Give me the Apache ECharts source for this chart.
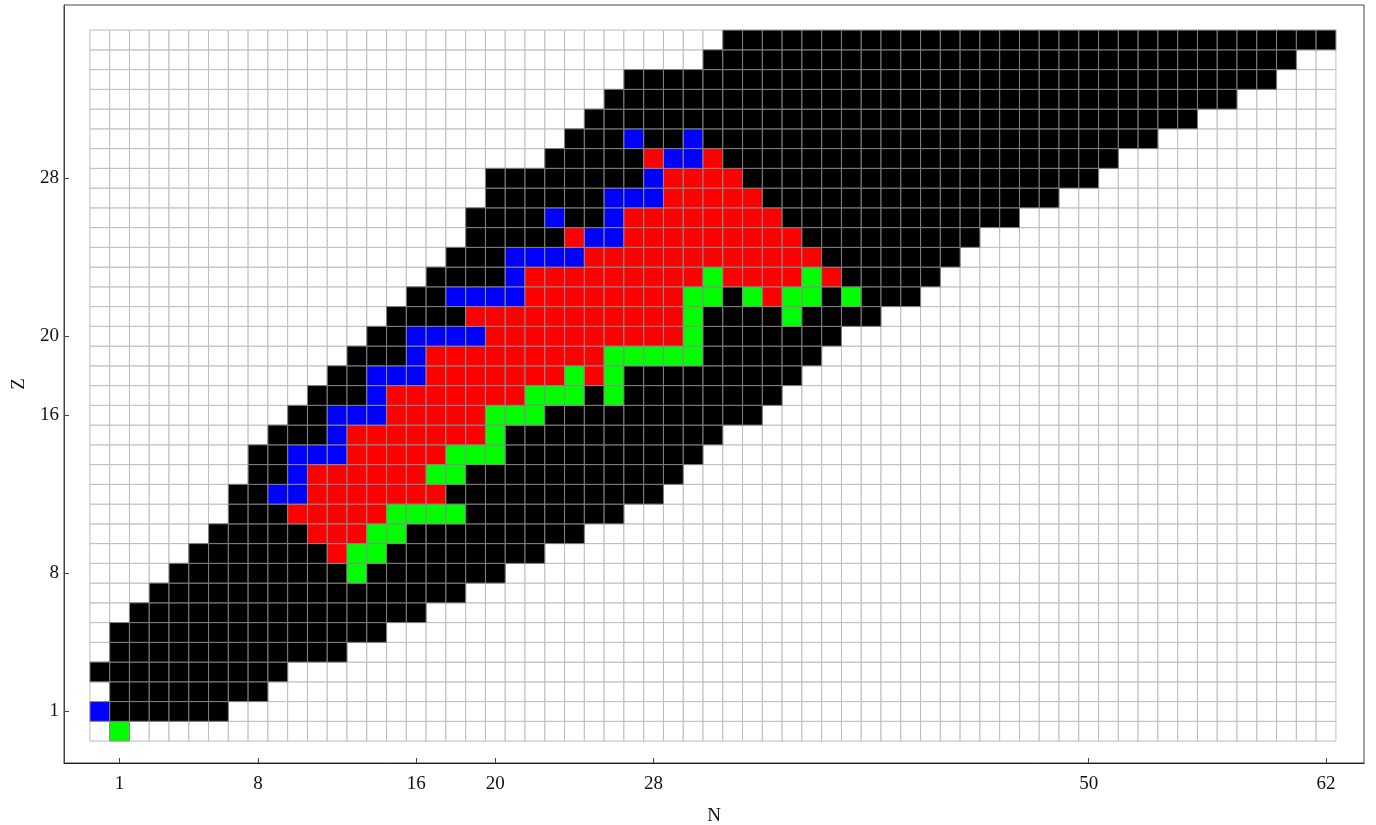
<!DOCTYPE html>
<html>
<head>
<meta charset="utf-8">
<script src="https://cdn.jsdelivr.net/npm/echarts@6/dist/echarts.min.js"></script>
<style>
  html, body { margin: 0; padding: 0; background: #ffffff; }
  #chart { width: 1376px; height: 825px; }
</style>
</head>
<body>
<div id="chart"></div>
<script>
// Grid extent (neutron number N, proton number Z)
const nValues = Array.from({ length: 63 }, (_, i) => i);   // N = 0..62
const zValues = Array.from({ length: 36 }, (_, i) => i);   // Z = 0..35

// Tick labels
const xTicks = [1, 8, 16, 20, 28, 50, 62];
const yTicks = [1, 8, 16, 20, 28];

// Runs of cells: [Z, N from, N to]
const blackRuns = [
  [1,1,6],[2,1,8],[3,0,9],[4,1,12],[5,1,14],[6,2,16],[7,3,18],[8,4,20],[9,5,22],
  [10,6,24],[11,7,26],[12,7,28],[13,8,29],[14,8,30],[15,9,31],[16,10,33],[17,11,34],
  [18,12,35],[19,13,36],[20,14,37],[21,15,39],[22,16,41],[23,17,42],[24,18,43],
  [25,19,44],[26,19,46],[27,20,48],[28,20,50],[29,23,51],[30,24,53],[31,25,55],
  [32,26,57],[33,27,59],[34,31,60],[35,32,62]
];
const redRuns = [
  [9,12,12],[10,11,13],[11,10,14],[12,11,17],[13,11,16],[14,13,17],[15,13,19],
  [16,15,19],[17,15,21],[18,17,23],[18,25,25],[19,17,25],[20,20,29],[21,19,29],
  [22,22,29],[22,34,34],[23,22,30],[23,32,35],[23,37,37],[24,25,36],[25,24,24],
  [25,27,35],[26,27,34],[27,29,33],[28,29,32],[29,28,28],[29,31,31]
];
const blueRuns = [
  [1,0,0],[12,9,10],[13,10,10],[14,10,12],[15,12,12],[16,12,14],[17,14,14],
  [18,14,16],[19,16,16],[20,16,19],[22,18,21],[23,21,21],[24,21,24],[25,25,26],
  [26,23,23],[26,26,26],[27,26,28],[28,28,28],[29,29,30],[30,27,27],[30,30,30]
];
const greenRuns = [
  [0,1,1],[8,13,13],[9,13,14],[10,14,15],[11,15,18],[13,17,18],[14,18,20],
  [15,20,20],[16,20,22],[17,22,24],[17,26,26],[18,24,24],[18,26,26],[19,26,30],
  [20,30,30],[21,30,30],[21,35,35],[22,30,31],[22,33,33],[22,35,36],[22,38,38],
  [23,31,31],[23,36,36]
];

// colour classes: 0 white, 1 black, 2 red, 3 blue, 4 green
const fillColors = ['#ffffff', '#000000', '#ff0000', '#0000ff', '#00ff00'];
const strokeColors = ['#bdbdbd', '#808080', '#8a8a8a', '#8a8a8a', '#8a8a8a'];

const grid = {};
zValues.forEach(z => nValues.forEach(n => { grid[n + ',' + z] = 0; }));
function apply(runs, k) {
  runs.forEach(([z, a, b]) => { for (let n = a; n <= b; n++) grid[n + ',' + z] = k; });
}
apply(blackRuns, 1);
apply(redRuns, 2);
apply(blueRuns, 3);
apply(greenRuns, 4);

const whiteData = [], colorData = [];
zValues.forEach(z => nValues.forEach(n => {
  const k = grid[n + ',' + z];
  (k === 0 ? whiteData : colorData).push([n, z, k]);
}));

function renderCell(params, api) {
  const n = api.value(0), z = api.value(1), k = api.value(2);
  const p1 = api.coord([n - 0.5, z + 0.5]);
  const p2 = api.coord([n + 0.5, z - 0.5]);
  return {
    type: 'rect',
    shape: { x: p1[0], y: p1[1], width: p2[0] - p1[0], height: p2[1] - p1[1] },
    style: { fill: fillColors[k], stroke: strokeColors[k], lineWidth: 1 }
  };
}

const serif = "'Liberation Serif', 'DejaVu Serif', serif";
const chart = echarts.init(document.getElementById('chart'), null, { renderer: 'canvas' });
chart.setOption({
  animation: false,
  backgroundColor: '#ffffff',
  grid: {
    left: 64, right: 12, top: 5, bottom: 62,
    containLabel: false, outerBoundsMode: 'none',
    show: true, borderColor: '#444', borderWidth: 1, backgroundColor: 'transparent'
  },
  xAxis: {
    type: 'value', min: -1.81, max: 63.92,
    name: 'N', nameLocation: 'middle', nameGap: 44,
    nameTextStyle: { fontFamily: serif, fontSize: 19, color: '#111' },
    axisLine: { show: true, onZero: false, lineStyle: { color: '#222', width: 1 } },
    axisTick: { show: true, inside: true, length: 5, customValues: xTicks, lineStyle: { color: '#444' } },
    axisLabel: { customValues: xTicks, fontFamily: serif, fontSize: 19, color: '#111', margin: 12 },
    splitLine: { show: false }
  },
  yAxis: {
    type: 'value', min: -1.61, max: 36.77,
    name: 'Z', nameLocation: 'middle', nameGap: 35, nameRotate: 90,
    nameTextStyle: { fontFamily: serif, fontSize: 19, color: '#111' },
    axisLine: { show: true, onZero: false, lineStyle: { color: '#444', width: 1 } },
    axisTick: { show: true, inside: true, length: 5, customValues: yTicks, lineStyle: { color: '#444' } },
    axisLabel: { customValues: yTicks, fontFamily: serif, fontSize: 19, color: '#111', margin: 5 },
    splitLine: { show: false }
  },
  series: [
    { type: 'custom', renderItem: renderCell, data: whiteData, encode: { x: 0, y: 1 }, clip: false, silent: true, z: 1 },
    { type: 'custom', renderItem: renderCell, data: colorData, encode: { x: 0, y: 1 }, clip: false, silent: true, z: 2 }
  ]
});
</script>
</body>
</html>
